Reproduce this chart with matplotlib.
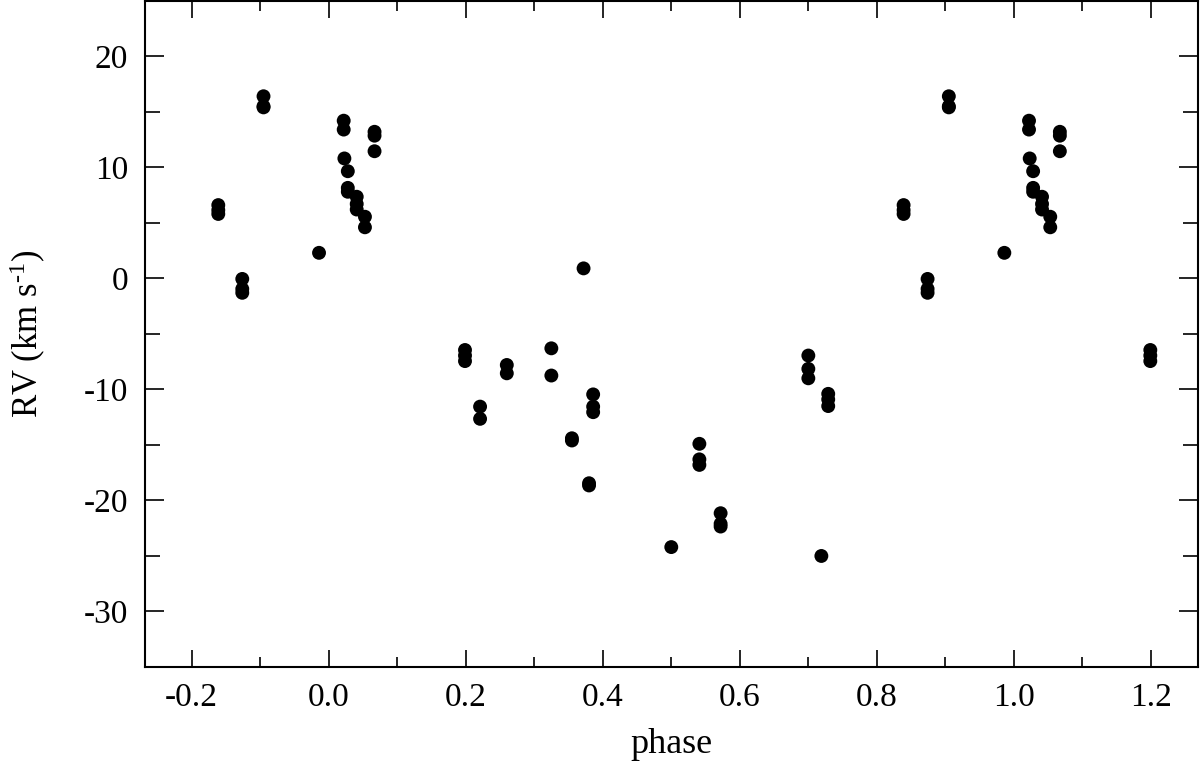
import matplotlib
matplotlib.use("Agg")
import matplotlib.pyplot as plt
import numpy as np
from matplotlib.ticker import MultipleLocator

# radial velocities, phase in [0, 1)
phase = [
    0.199, 0.199, 0.199,
    0.221, 0.221,
    0.260, 0.260,
    0.325, 0.325,
    0.355, 0.355,
    0.372,
    0.380, 0.380,
    0.386, 0.386, 0.386,
    0.500,
    0.541, 0.541, 0.541,
    0.572, 0.572, 0.572,
    0.700, 0.700, 0.700,
    0.719,
    0.729, 0.729, 0.729,
    0.839, 0.839, 0.839,
    0.874, 0.874, 0.874,
    0.905, 0.905, 0.905,
    0.986,
    0.022, 0.022,
    0.023,
    0.028, 0.028, 0.028,
    0.041, 0.041, 0.041,
    0.053, 0.053,
    0.067, 0.067, 0.067,
]
rv = [
    -6.45, -6.95, -7.45,
    -11.55, -12.65,
    -7.8, -8.55,
    -6.3, -8.75,
    -14.4, -14.6,
    0.9,
    -18.45, -18.65,
    -10.45, -11.55, -12.05,
    -24.2,
    -14.9, -16.3, -16.8,
    -21.15, -22.1, -22.35,
    -6.95, -8.15, -9.0,
    -25.0,
    -10.4, -10.9, -11.5,
    6.6, 6.15, 5.8,
    -0.05, -0.95, -1.3,
    16.4, 15.5, 15.4,
    2.3,
    14.2, 13.4,
    10.8,
    9.65, 8.15, 7.8,
    7.35, 6.7, 6.2,
    5.55, 4.6,
    13.2, 12.85, 11.45,
]

plt.rcParams["font.family"] = ["Liberation Serif", "DejaVu Serif"]
plt.rcParams["mathtext.fontset"] = "custom"
plt.rcParams["mathtext.rm"] = "Liberation Serif"
plt.rcParams["mathtext.it"] = "Liberation Serif:italic"

p = np.array(phase)
v = np.array(rv)
# repeat the cycle so the plot covers phase -0.2 .. 1.2
px = np.concatenate([p - 1, p, p + 1])
py = np.concatenate([v, v, v])
keep = (px >= -0.2) & (px <= 1.2)

fig = plt.figure(figsize=(12, 7.68), dpi=100)
ax = fig.add_axes([0.1208, 0.1315, 0.8772, 0.8675])
ax.scatter(px[keep], py[keep], s=100, color="black", edgecolors="none", zorder=3)

ax.set_xlim(-0.268, 1.268)
ax.set_ylim(-35, 25)
ax.xaxis.set_major_locator(MultipleLocator(0.2))
ax.xaxis.set_minor_locator(MultipleLocator(0.1))
ax.yaxis.set_major_locator(MultipleLocator(10))
ax.yaxis.set_minor_locator(MultipleLocator(5))
ax.xaxis.set_major_formatter(plt.FuncFormatter(lambda x, _: f"{x:.1f}"))
ax.yaxis.set_major_formatter(plt.FuncFormatter(lambda y, _: f"{y:.0f}"))

ax.tick_params(axis="both", which="both", direction="in", top=True, right=True,
               colors="black", labelsize=24)
ax.tick_params(axis="x", which="major", length=12, width=1.2, pad=11)
ax.tick_params(axis="x", which="minor", length=7, width=1.2)
ax.tick_params(axis="y", which="major", length=14, width=1.2, pad=12)
ax.tick_params(axis="y", which="minor", length=10.5, width=1.2)
for s in ax.spines.values():
    s.set_linewidth(1.5)

ax.set_xlabel("phase", fontsize=26, labelpad=11)
ax.set_ylabel("RV (km s$^{\\text{-1}}$)", fontsize=25, labelpad=26)

fig.savefig("out.png", dpi=100)
